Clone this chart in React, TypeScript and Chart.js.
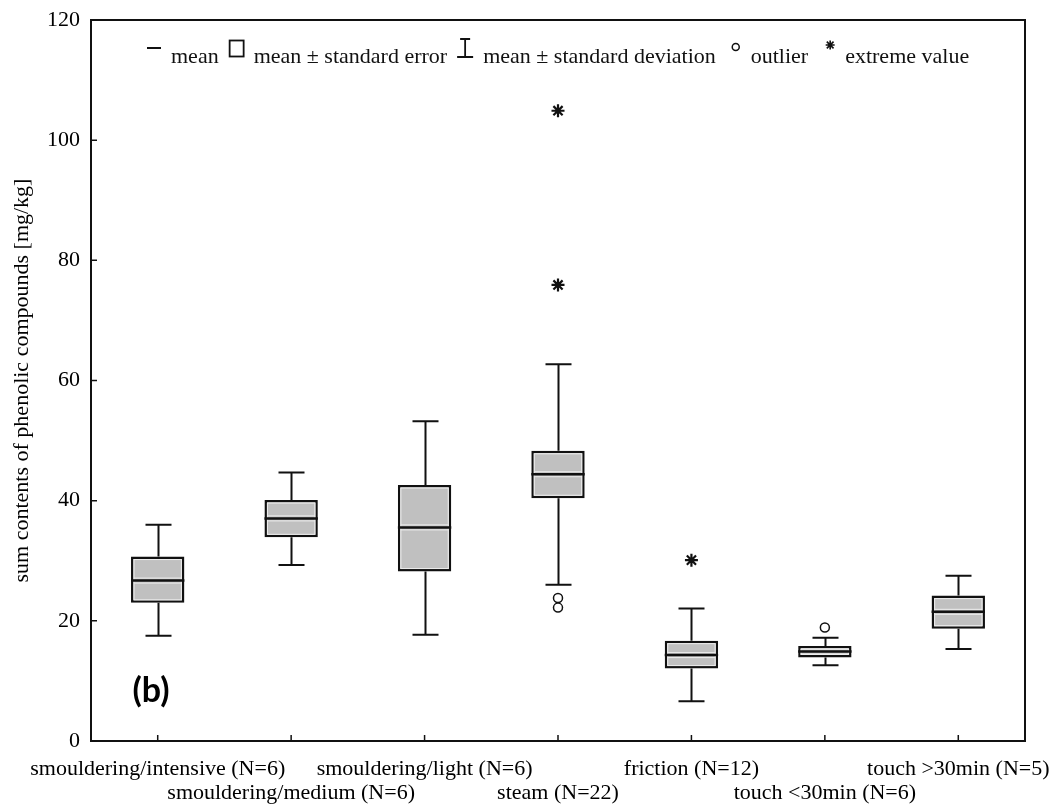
import React, { useEffect, useRef } from 'react';
import { Chart, registerables } from 'chart.js';

Chart.register(...registerables);

// Exposure categories (x axis)
const categories = [
  'smouldering/intensive (N=6)',
  'smouldering/medium (N=6)',
  'smouldering/light (N=6)',
  'steam (N=22)',
  'friction (N=12)',
  'touch <30min (N=6)',
  'touch >30min (N=5)',
];

// Box statistics per category [mg/kg]
const whiskerLow = [17.5, 29.3, 17.7, 26.0, 6.6, 12.6, 15.3];
const boxLow = [23.0, 33.9, 28.2, 40.4, 12.05, 13.9, 18.7];
const meanValues = [26.7, 37.05, 35.55, 44.4, 14.3, 14.9, 21.5];
const boxHigh = [30.7, 40.1, 42.6, 48.3, 16.7, 15.8, 24.2];
const whiskerHigh = [36.0, 44.7, 53.2, 62.7, 22.05, 17.2, 27.5];

// Outliers and extreme values (category, value)
const outlierCats = ['steam (N=22)', 'steam (N=22)', 'touch <30min (N=6)'];
const outlierValues = [23.8, 22.2, 18.9];
const extremeCats = ['steam (N=22)', 'steam (N=22)', 'friction (N=12)'];
const extremeValues = [104.9, 75.9, 30.1];

// Y axis range
const yMin = 0;
const yMax = 120;
const yStep = 20;

// Legend entries
const legendTexts = [
  'mean',
  'mean \u00b1 standard error',
  'mean \u00b1 standard deviation',
  'outlier',
  'extreme value',
];

const SERIF = '"Liberation Serif", "Times New Roman", serif';
const INK = '#111111';

export default function App() {
  const canvasRef = useRef<HTMLCanvasElement>(null);

  useEffect(() => {
    document.body.style.margin = '0';
    const canvas = canvasRef.current;
    if (!canvas) return;

    const boxParts = {
      id: 'boxParts',
      beforeDatasetsDraw(chart: any) {
        const { ctx, scales } = chart;
        const x = scales.x;
        const y = scales.y;
        ctx.save();
        ctx.strokeStyle = INK;
        ctx.lineWidth = 2;
        const cap = 13;
        categories.forEach((_, i) => {
          const cx = Math.round(x.getPixelForValue(i)) + 0.5;
          const wl = y.getPixelForValue(whiskerLow[i]);
          const bl = y.getPixelForValue(boxLow[i]);
          const bh = y.getPixelForValue(boxHigh[i]);
          const wh = y.getPixelForValue(whiskerHigh[i]);
          ctx.beginPath();
          ctx.moveTo(cx, wl);
          ctx.lineTo(cx, bl);
          ctx.moveTo(cx, bh);
          ctx.lineTo(cx, wh);
          ctx.moveTo(cx - cap, wl);
          ctx.lineTo(cx + cap, wl);
          ctx.moveTo(cx - cap, wh);
          ctx.lineTo(cx + cap, wh);
          ctx.stroke();
        });
        ctx.restore();
      },
      afterDatasetsDraw(chart: any) {
        const { ctx, scales } = chart;
        const y = scales.y;
        const meta = chart.getDatasetMeta(0);
        ctx.save();
        meta.data.forEach((bar: any, i: number) => {
          const { x: bx, width } = bar.getProps(['x', 'width'], true);
          const top = y.getPixelForValue(boxHigh[i]);
          const bottom = y.getPixelForValue(boxLow[i]);
          const ym = y.getPixelForValue(meanValues[i]);
          const l = bx - width / 2;
          const r = bx + width / 2;
          // light inner rim of the box
          ctx.strokeStyle = '#ededed';
          ctx.lineWidth = 1;
          ctx.strokeRect(l + 3, top + 3, width - 6, bottom - top - 6);
          ctx.beginPath();
          ctx.moveTo(l + 3, ym - 2.5);
          ctx.lineTo(r - 3, ym - 2.5);
          ctx.moveTo(l + 3, ym + 2.5);
          ctx.lineTo(r - 3, ym + 2.5);
          ctx.stroke();
          // mean line
          ctx.strokeStyle = INK;
          ctx.lineWidth = 2.5;
          ctx.beginPath();
          ctx.moveTo(l, ym);
          ctx.lineTo(r, ym);
          ctx.stroke();
        });
        ctx.restore();
      },
    };

    const frameAndLegend = {
      id: 'frameAndLegend',
      afterDraw(chart: any) {
        const { ctx, chartArea: a, scales } = chart;
        const x = scales.x;
        const y = scales.y;
        ctx.save();
        // plot frame
        ctx.strokeStyle = INK;
        ctx.lineWidth = 2;
        ctx.strokeRect(a.left, a.top, a.right - a.left, a.bottom - a.top);
        // inward tick marks
        ctx.lineWidth = 1.5;
        ctx.beginPath();
        y.ticks.forEach((_: any, i: number) => {
          const py = y.getPixelForTick(i);
          ctx.moveTo(a.left, py);
          ctx.lineTo(a.left + 6, py);
        });
        x.ticks.forEach((_: any, i: number) => {
          const px = x.getPixelForTick(i);
          ctx.moveTo(px, a.bottom);
          ctx.lineTo(px, a.bottom - 6);
        });
        ctx.stroke();

        // legend row inside the plot
        ctx.font = `22px ${SERIF}`;
        ctx.fillStyle = INK;
        ctx.textBaseline = 'alphabetic';
        const base = 63;
        let cx = 147;
        // mean: short dash
        ctx.lineWidth = 2;
        ctx.beginPath();
        ctx.moveTo(cx, 48);
        ctx.lineTo(cx + 14, 48);
        ctx.stroke();
        cx += 24;
        ctx.fillText(legendTexts[0], cx, base);
        cx += ctx.measureText(legendTexts[0]).width + 11;
        // standard error: box
        ctx.lineWidth = 1.8;
        ctx.strokeRect(cx, 40.5, 14, 16);
        cx += 24;
        ctx.fillText(legendTexts[1], cx, base);
        cx += ctx.measureText(legendTexts[1]).width + 10;
        // standard deviation: whisker
        ctx.beginPath();
        ctx.moveTo(cx + 8, 38);
        ctx.lineTo(cx + 8, 57);
        ctx.moveTo(cx + 3, 39);
        ctx.lineTo(cx + 13, 39);
        ctx.moveTo(cx, 57);
        ctx.lineTo(cx + 16, 57);
        ctx.stroke();
        cx += 26;
        ctx.fillText(legendTexts[2], cx, base);
        cx += ctx.measureText(legendTexts[2]).width + 20;
        // outlier: small circle
        ctx.lineWidth = 1.5;
        ctx.beginPath();
        ctx.arc(cx, 47, 3.5, 0, Math.PI * 2);
        ctx.stroke();
        cx += 15;
        ctx.fillText(legendTexts[3], cx, base);
        cx += ctx.measureText(legendTexts[3]).width + 22;
        // extreme value: asterisk
        ctx.lineWidth = 1.6;
        ctx.beginPath();
        const s = 4.5;
        const sy = 45;
        ctx.moveTo(cx - s, sy);
        ctx.lineTo(cx + s, sy);
        ctx.moveTo(cx, sy - s);
        ctx.lineTo(cx, sy + s);
        ctx.moveTo(cx - s * 0.75, sy - s * 0.75);
        ctx.lineTo(cx + s * 0.75, sy + s * 0.75);
        ctx.moveTo(cx - s * 0.75, sy + s * 0.75);
        ctx.lineTo(cx + s * 0.75, sy - s * 0.75);
        ctx.stroke();
        cx += 15;
        ctx.fillText(legendTexts[4], cx, base);

        // panel tag
        ctx.font = `bold 34px Lato, "Liberation Sans", sans-serif`;
        ctx.fillStyle = '#000';
        ctx.textAlign = 'center';
        ctx.textBaseline = 'middle';
        ctx.fillText('(b)', 151, 691);
        ctx.restore();
      },
    };

    const chart = new Chart(canvas, {
      type: 'bar',
      data: {
        labels: categories,
        datasets: [
          {
            type: 'bar',
            label: 'mean \u00b1 standard error',
            data: categories.map((_, i) => [boxLow[i], boxHigh[i]]),
            backgroundColor: '#c0c0c0',
            borderColor: INK,
            borderWidth: 2.5,
            borderSkipped: false,
            barPercentage: 0.4,
            categoryPercentage: 1,
          } as any,
          {
            type: 'line',
            label: 'outlier',
            data: outlierCats.map((c, i) => ({ x: c, y: outlierValues[i] })),
            showLine: false,
            pointStyle: 'circle',
            pointRadius: 4.5,
            pointBorderWidth: 1.5,
            pointBackgroundColor: '#ffffff',
            pointBorderColor: INK,
          } as any,
          {
            type: 'line',
            label: 'extreme value',
            data: extremeCats.map((c, i) => ({ x: c, y: extremeValues[i] })),
            showLine: false,
            pointStyle: 'star',
            pointRadius: 6.5,
            pointBorderWidth: 2.2,
            pointBackgroundColor: INK,
            pointBorderColor: INK,
          } as any,
        ],
      },
      options: {
        responsive: false,
        animation: false,
        devicePixelRatio: 1,
        layout: { padding: { top: 20, right: 25, bottom: 0, left: 0 } },
        plugins: {
          legend: { display: false },
          tooltip: { enabled: false },
        },
        scales: {
          x: {
            type: 'category',
            offset: true,
            grid: { display: false, drawTicks: false },
            border: { display: false },
            ticks: {
              autoSkip: false,
              maxRotation: 0,
              minRotation: 0,
              padding: 16,
              color: '#000',
              font: { family: SERIF, size: 22, lineHeight: 1.1 },
              // alternate labels onto a second row
              callback(value: any, index: number) {
                const text = categories[index];
                return index % 2 === 1 ? ['', text] : text;
              },
            },
            afterFit(scale: any) {
              scale.height = 64;
              scale.paddingLeft = 0;
              scale.paddingRight = 0;
            },
          },
          y: {
            min: yMin,
            max: yMax,
            grid: { display: false, drawTicks: false },
            border: { display: false },
            ticks: {
              stepSize: yStep,
              padding: 11,
              color: '#000',
              font: { family: SERIF, size: 22 },
            },
            title: {
              display: true,
              text: 'sum contents of phenolic compounds [mg/kg]',
              color: '#000',
              font: { family: SERIF, size: 22 },
              padding: { top: 9, bottom: 0 },
            },
            afterFit(scale: any) {
              scale.width = 91;
              scale.paddingTop = 0;
              scale.paddingBottom = 0;
            },
          },
        },
      },
      plugins: [boxParts, frameAndLegend],
    });

    return () => chart.destroy();
  }, []);

  return (
    <div style={{ width: 1050, height: 805, background: '#fff' }}>
      <canvas ref={canvasRef} width={1050} height={805} />
    </div>
  );
}
